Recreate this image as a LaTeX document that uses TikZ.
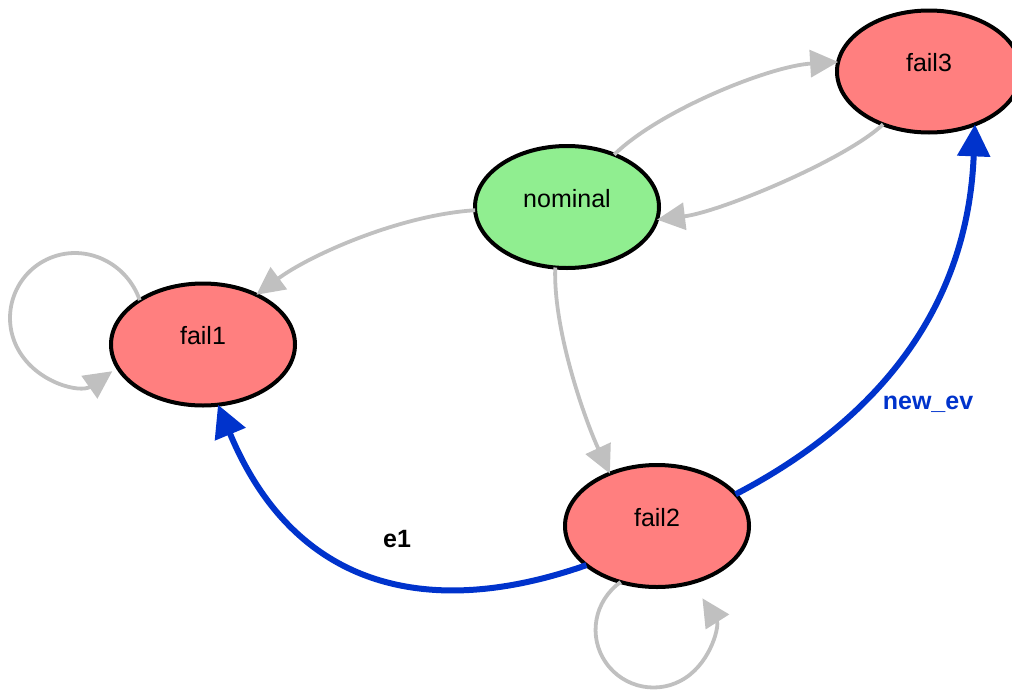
\documentclass[tikz,border=0pt]{standalone}
\usepackage{fontspec}
\setmainfont{Liberation Sans}
\usetikzlibrary{arrows.meta,shapes.geometric}
\definecolor{failred}{HTML}{FF7F7F}
\definecolor{nomgreen}{HTML}{90EE90}
\definecolor{edgegray}{HTML}{C0C0C0}
\definecolor{evblue}{HTML}{0033CC}
\begin{document}
\begin{tikzpicture}[x=1pt,y=-1pt,
  state/.style={ellipse, draw=black, line width=4pt, minimum width=184pt, minimum height=122pt,
    inner sep=0pt, outer sep=0pt, font=\fontsize{25}{29}\selectfont, text height=12pt, text depth=12pt},
  grayedge/.style={draw=edgegray, line width=3.8pt, -{Triangle[length=28pt,width=27pt]}},
  blueedge/.style={draw=evblue, line width=6pt, -{Triangle[length=32pt,width=32pt]}},
  lbl/.style={font=\fontsize{25}{29}\selectfont\bfseries, inner sep=0pt}]
\useasboundingbox (0,0) rectangle (1012,691);
\node[state, fill=nomgreen] (nominal) at (567,207) {nominal};
\node[state, fill=failred] (fail3) at (929,71.5) {fail3};
\node[state, fill=failred] (fail1) at (203,344.5) {fail1};
\node[state, fill=failred] (fail2) at (657,526) {fail2};
\coordinate (l1end) at (112.3,371.2);
\coordinate (l2end) at (702.4,598.3);
\draw[grayedge] (nominal.48) .. controls (660,110) and (770,66) .. (fail3.174);
\draw[grayedge] (fail3.229) .. controls (845,160) and (720,212) .. (nominal.-8);
\draw[grayedge] (nominal.182) .. controls (400,215) and (310,255) .. (fail1.43);
\draw[grayedge] (nominal.259) .. controls (553,330) and (585,420) .. (fail2.132);
\draw[grayedge] (fail1.145) .. controls (126.8,262.9) and (86.1,243.2) .. (50.3,257.9)
  .. controls (14.5,272.6) and (-0.6,315.2) .. (18.0,349.2)
  .. controls (36.6,383.2) and (80.6,393.4) .. (l1end);
\draw[grayedge] (fail2.237) .. controls (594.0,601.0) and (587.8,636.5) .. (605.8,662.5)
  .. controls (623.8,688.5) and (659.3,695.3) .. (685.6,677.8)
  .. controls (711.9,660.3) and (719.4,625.0) .. (l2end);
\draw[blueedge] (fail2.209) .. controls (430,620) and (295,590) .. (fail1.284);
\draw[blueedge] (fail2.22) .. controls (857,431) and (967,326) .. (fail3.311);
\node[lbl, anchor=base] (e1lab) at (397,547) {e1};
\node[lbl, anchor=base, text=evblue] (nevlab) at (928,409) {new\_ev};
\end{tikzpicture}
\end{document}
